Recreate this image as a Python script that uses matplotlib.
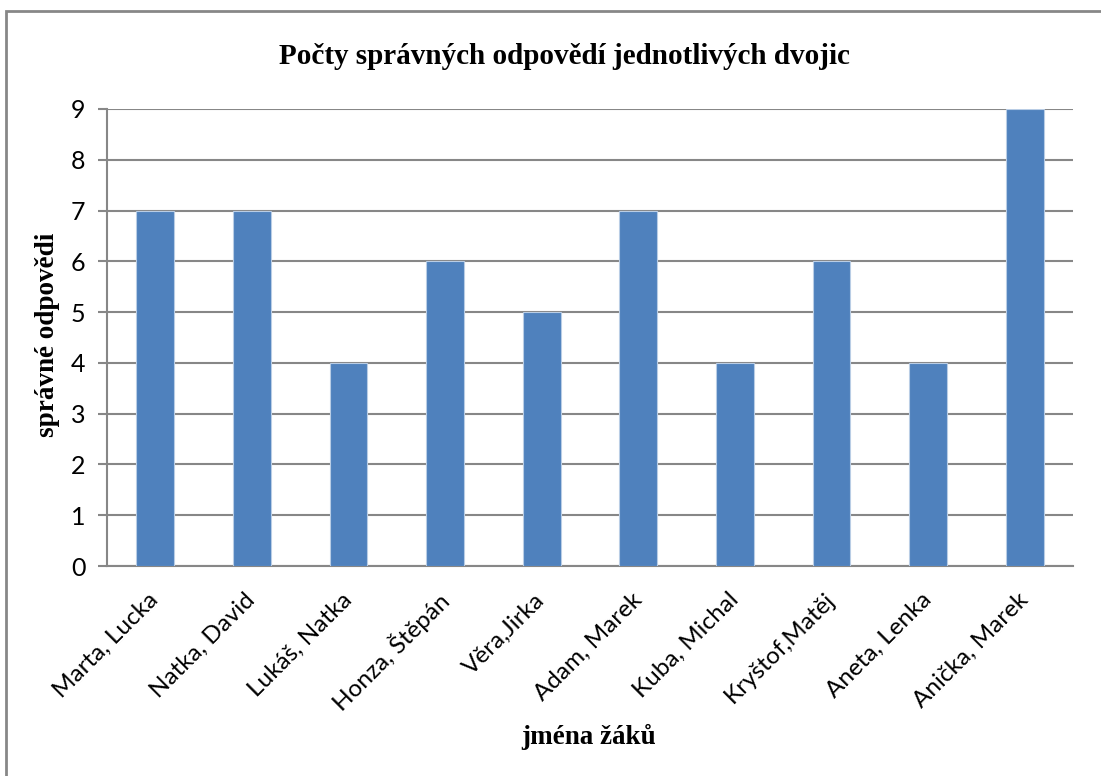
import matplotlib.pyplot as plt
from matplotlib.patches import Rectangle

pairs = ["Marta, Lucka", "Natka, David", "Lukáš, Natka", "Honza, Štěpán", "Věra,Jirka",
         "Adam, Marek", "Kuba, Michal", "Kryštof,Matěj", "Aneta, Lenka", "Anička, Marek"]
correct = [7, 7, 4, 6, 5, 7, 4, 6, 4, 9]

W, H = 1101, 776
fig = plt.figure(figsize=(W / 100, H / 100), dpi=100)
ax = fig.add_axes([107 / W, 1 - 566 / H, (1073 - 107) / W, (566 - 109) / H])

grey = '#878787'
x = range(len(pairs))
ax.bar(x, correct, width=0.39, color='#4F81BD', edgecolor='#B9CDE5', linewidth=0.8, zorder=3)

ax.set_xlim(-0.5, len(pairs) - 0.5)
ax.set_ylim(0, 9)
ax.set_yticks(range(0, 10))
ax.yaxis.grid(True, color=grey, linewidth=1.5, zorder=0)
for s in ['top', 'right']:
    ax.spines[s].set_visible(False)
for s in ['left', 'bottom']:
    ax.spines[s].set_color(grey)
    ax.spines[s].set_linewidth(1.5)
ax.tick_params(axis='y', length=6.5, width=1.5, color=grey, labelsize=18, pad=9)
ax.tick_params(axis='x', length=0, pad=22)
for lab in ax.get_yticklabels():
    lab.set_family('Lato')

ax.set_xticks(list(x))
ax.set_xticklabels(pairs, rotation=45, ha='right', va='center', rotation_mode='anchor',
                   fontsize=17.5, family='Lato')

fig.text(564 / W, 1 - 57 / H, "Počty správných odpovědí jednotlivých dvojic", ha='center', va='center',
         fontsize=21, fontweight='bold', family='Liberation Serif')
fig.text(48 / W, 1 - 335 / H, "správné odpovědi", ha='center', va='center', rotation=90,
         fontsize=19.5, fontweight='bold', family='Liberation Serif')
fig.text(589 / W, 1 - 737 / H, "jména žáků", ha='center', va='center',
         fontsize=19.5, fontweight='bold', family='Liberation Serif')

# chart frame: only top and left edges fall inside the image
fig.patches.append(Rectangle((6 / W, -0.1), 1.2, 1 - 11 / H + 0.1,
                             transform=fig.transFigure, fill=False, edgecolor=grey, linewidth=2))

fig.savefig('out.png', dpi=100)
